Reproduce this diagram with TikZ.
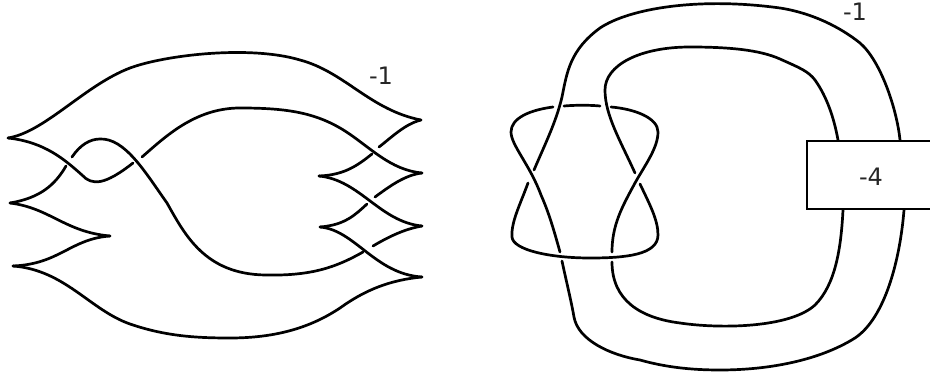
\documentclass[tikz,border=0pt]{standalone}
\usepackage{fontspec}
\setmainfont{DejaVu Sans}
\tikzset{
  strand/.style={line width=2.7pt,line cap=round,line join=round,black},
  lbl/.style={inner sep=0pt,font=\fontsize{24}{26}\selectfont,text=black!85}
}
\begin{document}
\begin{tikzpicture}[x=1pt,y=-1pt]
\useasboundingbox (0,0) rectangle (930,374);
% left figure
\draw[strand] (8,138) .. controls (45,132) and (85,85) .. (130,68) .. controls (165,55) and (250,45) .. (300,60) .. controls (345,72) and (370,110) .. (421,120);
\draw[strand] (8,138) .. controls (45,142) and (65,160) .. (82,175) .. controls (92,186) and (105,185) .. (133,163);
\draw[strand] (142,157) .. controls (165,137) and (195,108) .. (240,108) .. controls (285,108) and (315,112) .. (345,131) .. controls (370,147) and (390,170) .. (422,173);
\draw[strand] (10,203) .. controls (40,198) and (55,185) .. (66,166);
\draw[strand] (72,157) .. controls (80,145) and (90,139) .. (100,139) .. controls (125,138) and (145,172) .. (167,203) .. controls (185,235) and (205,274) .. (265,275) .. controls (310,276) and (335,268) .. (363,252);
\draw[strand] (373,246) .. controls (390,236) and (405,229) .. (422,226);
\draw[strand] (10,203) .. controls (50,208) and (65,232) .. (110,236);
\draw[strand] (110,236) .. controls (70,239) and (60,264) .. (13,266);
\draw[strand] (13,266) .. controls (65,270) and (90,310) .. (130,324) .. controls (165,336) and (195,338) .. (230,338) .. controls (275,338) and (310,328) .. (340,308) .. controls (365,290) and (390,280) .. (422,277);
\draw[strand] (379,147) .. controls (392,137) and (405,124) .. (421,120);
\draw[strand] (372,154) .. controls (358,165) and (345,175) .. (319,176);
\draw[strand] (319,176) .. controls (360,180) and (380,222) .. (422,226);
\draw[strand] (422,173) .. controls (405,175) and (390,186) .. (375,197);
\draw[strand] (367,204) .. controls (355,215) and (345,225) .. (320,227);
\draw[strand] (320,227) .. controls (355,230) and (375,274) .. (422,277);
\node[lbl] (la) at (381,76) {-1};
% right figure
\draw[strand] (534,170) .. controls (546,142) and (556,122) .. (562,97) .. controls (567,72) and (570,50) .. (600,28) .. controls (630,8) and (700,-3) .. (780,8) .. controls (812,13) and (840,27) .. (860,43) .. controls (881,61) and (897,110) .. (900,140);
\draw[strand] (528,183) .. controls (520,205) and (511,222) .. (512,237) .. controls (513,250) and (550,258) .. (590,258) .. controls (625,258) and (658,255) .. (658,235) .. controls (658,220) and (650,205) .. (640,184);
\draw[strand] (635,173) .. controls (620,140) and (605,115) .. (605,90) .. controls (605,65) and (640,47) .. (690,47) .. controls (730,47) and (760,50) .. (780,59) .. controls (800,68) and (808,71) .. (815,80) .. controls (827,97) and (834,118) .. (838,140);
\draw[strand] (553,107) .. controls (530,110) and (511,118) .. (511,132) .. controls (511,145) and (530,165) .. (541,195) .. controls (550,215) and (556,238) .. (560,252);
\draw[strand] (564,106) .. controls (575,105) and (590,105) .. (600,106);
\draw[strand] (611,107) .. controls (635,109) and (658,118) .. (658,132) .. controls (658,148) and (645,165) .. (635,183) .. controls (622,207) and (612,225) .. (612,252);
\draw[strand] (562,261) .. controls (566,280) and (571,300) .. (574,317) .. controls (578,340) and (610,355) .. (640,360) .. controls (665,367) and (690,370) .. (720,370) .. controls (770,370) and (820,360) .. (855,338) .. controls (885,318) and (900,260) .. (904,210);
\draw[strand] (612,262) .. controls (612,300) and (640,318) .. (680,323) .. controls (720,329) and (790,328) .. (815,305) .. controls (835,285) and (841,250) .. (843,210);
\draw[strand,line cap=butt,line join=miter] (930,141) -- (807,141) -- (807,209) -- (930,209);
\node[lbl] (lb) at (855,12) {-1};
\node[lbl] (lc) at (871,177) {-4};
\end{tikzpicture}
\end{document}
